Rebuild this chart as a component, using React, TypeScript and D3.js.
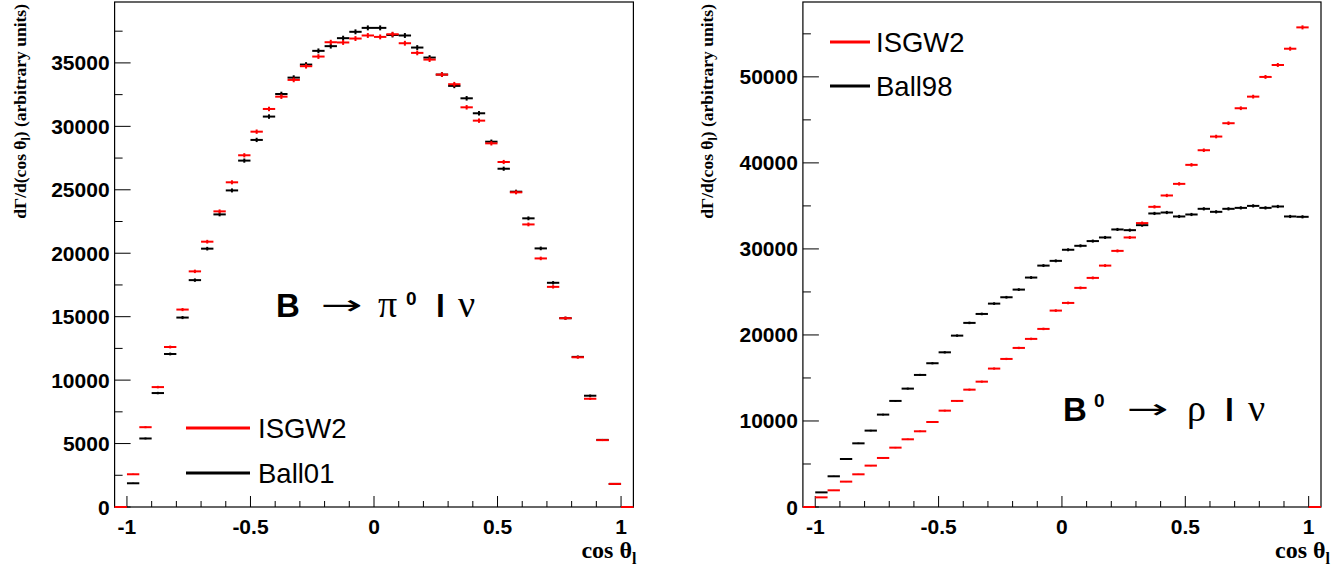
import React, { useEffect, useRef } from 'react';
import * as d3 from 'd3';

const W = 1338, H = 571;
const N_BINS = 42;
// histogram bin edges, cos(theta_l) from -1.05 to 1.05 in steps of 0.05
const BIN_EDGES = d3.range(N_BINS + 1).map(i => -1.05 + i * 0.05);

// B -> pi0 l nu
const PI_ISGW2 = [
  0, 2580, 6290, 9450, 12610, 15560, 18570, 20910, 23300, 25590, 27720,
  29580, 31370, 32340, 33660, 34740, 35500, 36630, 36610, 36920, 37160,
  37050, 37260, 36550, 35790, 35260, 34080, 33320, 31500, 30450, 28660,
  27190, 24800, 22270, 19590, 17350, 14880, 11800, 8530, 5270, 1820, 0,
];
const PI_BALL01 = [
  0, 1870, 5400, 8980, 12060, 14930, 17880, 20360, 23060, 24950, 27300,
  28930, 30770, 32550, 33840, 34870, 35950, 36320, 36950, 37450, 37760,
  37760, 37200, 37160, 36210, 35420, 34080, 33190, 32210, 31030, 28790,
  26660, 24850, 22750, 20380, 17670, 14880, 11830, 8770, 5290, 1820, 0,
];

// B0 -> rho l nu
const RHO_ISGW2 = [
  0, 1120, 1940, 2950, 3800, 4810, 5700, 6900, 7870, 8800, 9880,
  11200, 12330, 13640, 14570, 16090, 17210, 18490, 19540, 20700, 22830,
  23720, 25470, 26630, 28060, 29770, 31330, 33000, 34890, 36210, 37560,
  39770, 41470, 43060, 44610, 46350, 47700, 49990, 51380, 53270, 55750, 0,
];
const RHO_BALL98 = [
  0, 1700, 3570, 5580, 7400, 8880, 10740, 12330, 13760, 15350, 16710,
  17980, 19920, 21400, 22440, 23640, 24380, 25270, 26670, 28060, 28610,
  29900, 30360, 30910, 31330, 32260, 32180, 32760, 34120, 34230, 33770,
  34000, 34660, 34310, 34660, 34770, 35000, 34770, 34930, 33770, 33730, 0,
];

const X_TICKS = [-1, -0.5, 0, 0.5, 1];
const X_TICK_LABELS = ['-1', '-0.5', '0', '0.5', '1'];
const X_MINOR = d3.range(-10, 11).map(i => i / 10);

const SANS = '"Liberation Sans", Arial, Helvetica, sans-serif';
const SERIF = '"Liberation Serif", "Times New Roman", serif';
const ARROW_FONT = '"DejaVu Sans ExtraLight", "DejaVu Sans", sans-serif';

const Y_TOP = 2, Y_BOTTOM = 507;

function drawPanel(svg, p) {
  const x = d3.scaleLinear().domain([-1.05, 1.05]).range([p.left, p.right]);
  const y = d3.scaleLinear().domain([0, p.yMax]).range([Y_BOTTOM, Y_TOP]);
  const g = svg.append('g');

  // frame
  g.append('rect')
    .attr('x', p.left).attr('y', Y_TOP)
    .attr('width', p.right - p.left).attr('height', Y_BOTTOM - Y_TOP)
    .attr('fill', 'none').attr('stroke', '#000').attr('stroke-width', 1.2);

  // y ticks + labels
  d3.range(0, p.yMax, p.yMinor).forEach(v => {
    const major = v % p.yMajor === 0;
    g.append('line')
      .attr('x1', p.left).attr('x2', p.left + (major ? 16 : 8))
      .attr('y1', y(v)).attr('y2', y(v))
      .attr('stroke', '#000').attr('stroke-width', 1);
    if (major) {
      g.append('text')
        .attr('x', p.left - 5).attr('y', y(v) + 7.5)
        .attr('text-anchor', 'end')
        .attr('font-family', SANS).attr('font-weight', 'bold').attr('font-size', 21)
        .text(String(v));
    }
  });

  // x ticks + labels
  X_MINOR.forEach(v => {
    const major = X_TICKS.some(t => Math.abs(t - v) < 1e-9);
    g.append('line')
      .attr('x1', x(v)).attr('x2', x(v))
      .attr('y1', Y_BOTTOM).attr('y2', Y_BOTTOM - (major ? 11 : 6))
      .attr('stroke', '#000').attr('stroke-width', 1);
  });
  X_TICKS.forEach((v, i) => {
    g.append('text')
      .attr('x', x(v)).attr('y', 534)
      .attr('text-anchor', 'middle')
      .attr('font-family', SANS).attr('font-weight', 'bold').attr('font-size', 21)
      .text(X_TICK_LABELS[i]);
  });

  // axis titles
  const xt = g.append('text')
    .attr('x', p.right + p.xTitleShift).attr('y', 558)
    .attr('text-anchor', 'end')
    .attr('font-family', SERIF).attr('font-weight', 'bold').attr('font-size', 24);
  xt.append('tspan').text('cos θ');
  xt.append('tspan').attr('dy', 6).attr('font-size', 16).text('l');

  const yt = g.append('text')
    .attr('transform', `translate(${p.yTitleX},4) rotate(-90)`)
    .attr('text-anchor', 'end')
    .attr('font-family', SERIF).attr('font-weight', 'bold').attr('font-size', 17.5);
  yt.append('tspan').text('dΓ/d(cos θ');
  yt.append('tspan').attr('dy', 4).attr('font-size', 12).text('l');
  yt.append('tspan').attr('dy', -4).text(') (arbitrary units)');

  // histograms: black first, red on top
  p.series.forEach(s => {
    const sg = g.append('g').attr('stroke', s.color).attr('stroke-width', 2);
    s.values.forEach((v, i) => {
      sg.append('line')
        .attr('x1', x(BIN_EDGES[i])).attr('x2', x(BIN_EDGES[i + 1]))
        .attr('y1', y(v)).attr('y2', y(v));
      if (v > 0) {
        const e = Math.sqrt(v);
        const cx = x((BIN_EDGES[i] + BIN_EDGES[i + 1]) / 2);
        sg.append('line')
          .attr('x1', cx).attr('x2', cx)
          .attr('y1', y(v - e)).attr('y2', y(v + e));
      }
    });
  });

  // legend
  p.legend.items.forEach((it, i) => {
    const ly = p.legend.y[i];
    g.append('line')
      .attr('x1', p.legend.x1).attr('x2', p.legend.x2)
      .attr('y1', ly).attr('y2', ly)
      .attr('stroke', it.color).attr('stroke-width', 3);
    g.append('text')
      .attr('x', p.legend.tx).attr('y', ly + 10)
      .attr('font-family', SANS).attr('font-size', 27.5)
      .text(it.name);
  });

  // decay label
  p.label.forEach(part => {
    const t = g.append('text')
      .attr('font-family', part.arrow ? ARROW_FONT : part.serif ? SERIF : SANS)
      .attr('font-weight', part.bold ? 'bold' : 'normal')
      .attr('font-size', part.size)
      .text(part.text);
    if (part.arrow) {
      // stretch the arrow glyph into the long thin arrow of the original
      const w = t.node().getComputedTextLength() || 23;
      t.attr('transform', `translate(${part.x},${part.y}) scale(${42 / w},1)`);
    } else {
      t.attr('x', part.x).attr('y', part.y);
    }
  });
}

export default function App() {
  const ref = useRef(null);

  useEffect(() => {
    const svg = d3.select(ref.current);
    svg.selectAll('*').remove();

    drawPanel(svg, {
      left: 114.6, right: 633.4, yMax: 39800, yMajor: 5000, yMinor: 2500,
      yTitleX: 26, xTitleShift: 3,
      series: [
        { color: '#000000', values: PI_BALL01 },
        { color: '#ff0000', values: PI_ISGW2 },
      ],
      legend: {
        x1: 186, x2: 250, tx: 258, y: [428, 473],
        items: [{ name: 'ISGW2', color: '#ff0000' }, { name: 'Ball01', color: '#000000' }],
      },
      label: [
        { text: 'B', x: 276, y: 317, size: 33, bold: true },
        { text: '→', x: 321, y: 314, size: 27, arrow: true },
        { text: 'π', x: 378, y: 317, size: 38, serif: true },
        { text: '0', x: 406, y: 305, size: 19, bold: true },
        { text: 'l', x: 436, y: 317, size: 32, bold: true },
        { text: 'ν', x: 458, y: 317, size: 38, serif: true },
      ],
    });

    drawPanel(svg, {
      left: 802.9, right: 1321, yMax: 58700, yMajor: 10000, yMinor: 5000,
      yTitleX: 713, xTitleShift: 9,
      series: [
        { color: '#000000', values: RHO_BALL98 },
        { color: '#ff0000', values: RHO_ISGW2 },
      ],
      legend: {
        x1: 830, x2: 870, tx: 876, y: [42, 86],
        items: [{ name: 'ISGW2', color: '#ff0000' }, { name: 'Ball98', color: '#000000' }],
      },
      label: [
        { text: 'B', x: 1063, y: 421, size: 33, bold: true },
        { text: '0', x: 1094, y: 407, size: 19, bold: true },
        { text: '→', x: 1127, y: 418, size: 27, arrow: true },
        { text: 'ρ', x: 1187, y: 421, size: 38, serif: true },
        { text: 'l', x: 1225, y: 421, size: 32, bold: true },
        { text: 'ν', x: 1248, y: 421, size: 38, serif: true },
      ],
    });
  }, []);

  return (
    <svg
      ref={ref}
      width={W}
      height={H}
      style={{ position: 'absolute', left: 0, top: 0, background: '#fff' }}
    />
  );
}
